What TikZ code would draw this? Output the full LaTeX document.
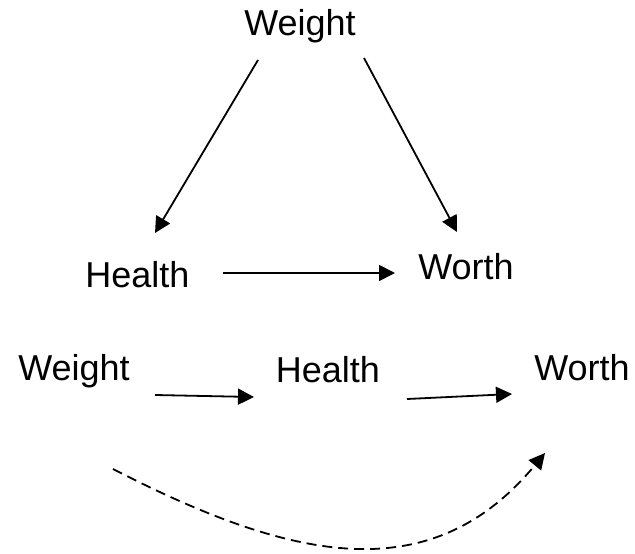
\documentclass[tikz,border=0pt]{standalone}
\usepackage{fontspec}
\setmainfont{Liberation Sans}
\usetikzlibrary{arrows.meta}

\tikzset{
  lbl/.style={anchor=base, inner sep=0pt, font=\fontsize{36}{40}\selectfont},
  arr/.style={line width=1.8pt, -{Triangle[length=16pt,width=16pt]}},
  dasharr/.style={arr, dash pattern=on 10pt off 6pt}
}

\begin{document}
\begin{tikzpicture}[x=1pt, y=-1pt]
\useasboundingbox (0,0) rectangle (635,554);

% triangle
\node[lbl] (wt) at (300,35) {Weight};
\node[lbl] (hl) at (137.5,287) {Health};
\node[lbl] (wr) at (466,279) {Worth};

% chain
\node[lbl] (wt2) at (74,380) {Weight};
\node[lbl] (hl2) at (328,382) {Health};
\node[lbl] (wr2) at (582,380) {Worth};

\coordinate (wtl) at (258,60);
\coordinate (wtr) at (364,58);
\coordinate (hlt) at (155,233);
\coordinate (wrt) at (457,232);
\coordinate (hlr) at (223,273);
\coordinate (wrl) at (395,273);
\coordinate (c1) at (155,395);
\coordinate (c2) at (254,397);
\coordinate (c3) at (407,399);
\coordinate (c4) at (512,394);
\coordinate (ds) at (113,469);
\coordinate (de) at (545,453);

\draw[arr] (wtl) -- (hlt);
\draw[arr] (wtr) -- (wrt);
\draw[arr] (hlr) -- (wrl);
\draw[arr] (c1) -- (c2);
\draw[arr] (c3) -- (c4);
\draw[dasharr] (ds) .. controls (290,560) and (430,592) .. (de);
\end{tikzpicture}
\end{document}
